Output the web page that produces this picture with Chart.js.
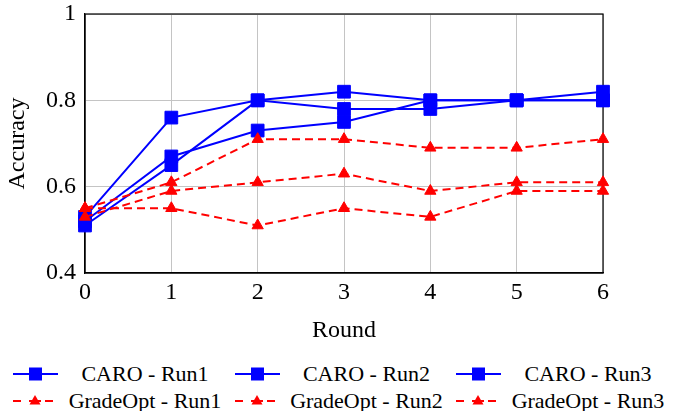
<!DOCTYPE html>
<html>
<head>
<meta charset="utf-8">
<script src="https://cdn.jsdelivr.net/npm/chart.js@4.4.1/dist/chart.umd.min.js"></script>
<style>
    body { margin: 0; background: #fff; }
    #wrap { position: relative; width: 673px; height: 411px; }
    #wrap, #wrap * { font-family: 'Liberation Serif', 'Times New Roman', serif !important; }
    #chart { position: absolute; left: 0; top: 0; }
    .entry { position: absolute; height: 28px; width: 220px; }
    .entry svg { position: absolute; left: 0; top: 0; }
    .entry span { position: absolute; left: 50px; width: 166px; top: 0; line-height: 28px; text-align: center; font-size: 22px; color: #000; white-space: nowrap; }
</style>
</head>
<body>
<div id="wrap">
    <canvas id="chart" width="673" height="355"></canvas>
</div>
<script>
const rounds = [0, 1, 2, 3, 4, 5, 6];
const yTicks = [0.4, 0.6, 0.8, 1];

const caroRun1 = [0.53, 0.76, 0.80, 0.82, 0.80, 0.80, 0.80];
const caroRun2 = [0.51, 0.65, 0.80, 0.78, 0.78, 0.80, 0.82];
const caroRun3 = [0.52, 0.67, 0.73, 0.75, 0.80, 0.80, 0.80];

const gradeRun1 = [0.55, 0.61, 0.71, 0.71, 0.69, 0.69, 0.71];
const gradeRun2 = [0.53, 0.59, 0.61, 0.63, 0.59, 0.61, 0.61];
const gradeRun3 = [0.55, 0.55, 0.51, 0.55, 0.53, 0.59, 0.59];

const seriesNames = ['CARO - Run1', 'CARO - Run2', 'CARO - Run3',
    'GradeOpt - Run1', 'GradeOpt - Run2', 'GradeOpt - Run3'];

const BLUE = '#0000ff';
const RED = '#ff0000';
const SERIF = "'Times New Roman', 'Liberation Serif', serif";

Chart.defaults.font.family = SERIF;

function caroSet(label, data) {
    return {
        label, data,
        borderColor: BLUE, backgroundColor: BLUE,
        borderWidth: 2, tension: 0,
        pointStyle: 'rect', pointRadius: 9, pointHoverRadius: 9,
        pointBorderWidth: 1,
        clip: false, order: 1,
    };
}

function gradeSet(label, data) {
    return {
        label, data,
        borderColor: RED, backgroundColor: RED,
        borderWidth: 2, borderDash: [8, 5], tension: 0,
        pointStyle: 'triangle', pointRadius: 6.5, pointHoverRadius: 6.5,
        pointBorderWidth: 1,
        clip: false, order: 0,
    };
}

// box round the plot, like pgfplots draws it
const frame = {
    id: 'frame',
    beforeDatasetsDraw(chart) {
        const { ctx, chartArea: a } = chart;
        ctx.save();
        ctx.strokeStyle = '#000';
        ctx.lineWidth = 1.2;
        ctx.strokeRect(a.left, a.top, a.right - a.left, a.bottom - a.top);
        ctx.restore();
    },
};

const font = { family: SERIF, size: 24 };

new Chart(document.getElementById('chart'), {
    type: 'line',
    data: {
        labels: rounds,
        datasets: [
            caroSet(seriesNames[0], caroRun1),
            caroSet(seriesNames[1], caroRun2),
            caroSet(seriesNames[2], caroRun3),
            gradeSet(seriesNames[3], gradeRun1),
            gradeSet(seriesNames[4], gradeRun2),
            gradeSet(seriesNames[5], gradeRun3),
        ],
    },
    options: {
        responsive: false,
        devicePixelRatio: 1,
        animation: false,
        layout: { padding: { left: 0, top: 14, right: 70, bottom: 0 } },
        plugins: {
            legend: { display: false },
            tooltip: { enabled: false },
        },
        scales: {
            x: {
                type: 'category',
                grid: { color: '#c4c4c4', lineWidth: 1, drawTicks: false },
                border: { color: '#000', width: 1.2 },
                ticks: { color: '#000', font, padding: 5, maxRotation: 0 },
                title: { display: true, text: 'Round', color: '#000', font, padding: { top: 0, bottom: 10 } },
                afterFit: (s) => { s.height = 82; s.paddingLeft = 0; s.paddingRight = 0; },
            },
            y: {
                min: 0.4,
                max: 1,
                afterBuildTicks: (s) => { s.ticks = yTicks.map(v => ({ value: v })); },
                grid: { color: '#c4c4c4', lineWidth: 1, drawTicks: false },
                border: { color: '#000', width: 1.2 },
                ticks: {
                    color: '#000', font, padding: 9,
                    callback: (v) => String(Number(v.toFixed(1))),
                },
                title: { display: true, text: 'Accuracy', color: '#000', font, padding: { top: 3, bottom: 0 } },
                afterFit: (s) => { s.width = 85; s.paddingTop = 0; s.paddingBottom = 0; },
            },
        },
    },
    plugins: [frame],
});

// legend, two rows of three like the pgfplots one
const wrap = document.getElementById('wrap');
const rowCentres = [374, 401];
seriesNames.forEach((name, i) => {
    const row = i < 3 ? 0 : 1;
    const col = i % 3;
    const el = document.createElement('div');
    el.className = 'entry';
    el.style.left = (12 + col * 221.5) + 'px';
    el.style.top = (rowCentres[row] - 14) + 'px';
    let svg;
    if (row === 0) {
        svg = `<svg width="48" height="28">
            <line x1="1" y1="14" x2="46" y2="14" stroke="${BLUE}" stroke-width="2"/>
            <rect x="17" y="7.5" width="13" height="13" fill="${BLUE}"/>
        </svg>`;
    } else {
        svg = `<svg width="48" height="28">
            <line x1="1" y1="14" x2="9" y2="14" stroke="${RED}" stroke-width="2"/>
            <line x1="17" y1="14" x2="29" y2="14" stroke="${RED}" stroke-width="2"/>
            <line x1="33" y1="14" x2="41" y2="14" stroke="${RED}" stroke-width="2"/>
            <polygon points="23,8 28.5,17.5 17.5,17.5" fill="${RED}"/>
        </svg>`;
    }
    el.innerHTML = svg + `<span style="font-family:'Times New Roman', serif">${name}</span>`;
    wrap.appendChild(el);
});
</script>
</body>
</html>
